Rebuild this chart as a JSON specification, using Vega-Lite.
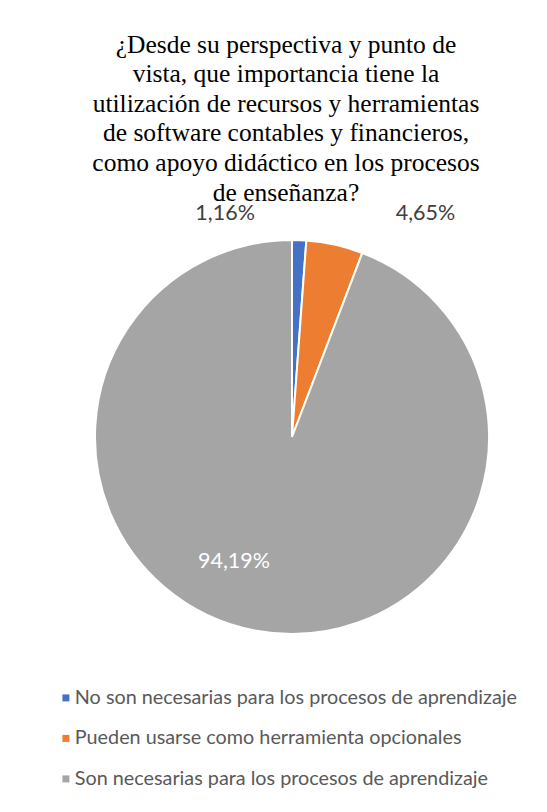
{
  "$schema": "https://vega.github.io/schema/vega-lite/v6.json",
  "width": 560,
  "height": 862,
  "autosize": {"type": "none"},
  "padding": {"left": 12, "top": 6, "right": -25, "bottom": -56},
  "background": "white",
  "config": {
    "view": {"stroke": "#D9D9D9", "strokeWidth": 1},
    "locale": {"number": {"decimal": ",", "thousands": ".", "grouping": [3], "currency": ["", " €"]}}
  },
  "title": {
    "text": ["¿Desde su perspectiva y punto de", "vista, que importancia tiene la", "utilización de recursos y herramientas", "de software contables y financieros,", "como apoyo didáctico en los procesos", "de enseñanza?"],
    "font": "Liberation Serif",
    "fontSize": 25.5,
    "fontWeight": "normal",
    "color": "#000000",
    "lineHeight": 29.6,
    "anchor": "middle",
    "baseline": "bottom",
    "offset": -225,
    "dx": -6
  },
  "data": {
    "values": [
      {"categoria": "No son necesarias para los procesos de aprendizaje", "valor": 0.0116},
      {"categoria": "Pueden usarse como herramienta opcionales", "valor": 0.0465},
      {"categoria": "Son necesarias para los procesos de aprendizaje", "valor": 0.9419}
    ]
  },
  "encoding": {
    "theta": {"field": "valor", "type": "quantitative", "stack": true},
    "order": {"field": "categoria", "sort": "ascending"}
  },
  "layer": [
    {
      "mark": {"type": "arc", "outerRadius": 197, "stroke": "white", "strokeWidth": 2},
      "encoding": {
        "color": {
          "field": "categoria",
          "type": "nominal",
          "scale": {
            "domain": ["No son necesarias para los procesos de aprendizaje", "Pueden usarse como herramienta opcionales", "Son necesarias para los procesos de aprendizaje"],
            "range": ["#4472C4", "#ED7D31", "#A5A5A5"]
          },
          "legend": {
            "title": null,
            "orient": "none",
            "legendX": 44,
            "legendY": 682,
            "symbolType": "square",
            "symbolSize": 49,
            "symbolStrokeWidth": 0,
            "labelFont": "Lato",
            "labelFontSize": 19.8,
            "labelColor": "#595959",
            "labelLimit": 600,
            "labelOffset": -1,
            "rowPadding": 19.5
          }
        }
      }
    },
    {
      "mark": {"type": "text", "radius": 223, "dx": -75, "font": "Lato", "fontSize": 21.5, "color": "#404040", "align": "center", "baseline": "middle"},
      "encoding": {
        "text": {
          "condition": {"test": "datum.categoria === 'No son necesarias para los procesos de aprendizaje'", "field": "valor", "type": "quantitative", "format": ".2%"},
          "value": ""
        }
      }
    },
    {
      "mark": {"type": "text", "radius": 228, "dx": 84, "font": "Lato", "fontSize": 21.5, "color": "#404040", "align": "center", "baseline": "middle"},
      "encoding": {
        "text": {
          "condition": {"test": "datum.categoria === 'Pueden usarse como herramienta opcionales'", "field": "valor", "type": "quantitative", "format": ".2%"},
          "value": ""
        }
      }
    },
    {
      "mark": {"type": "text", "radius": 127, "dx": -35, "font": "Lato", "fontSize": 21.5, "color": "#FFFFFF", "align": "center", "baseline": "middle"},
      "encoding": {
        "text": {
          "condition": {"test": "datum.categoria === 'Son necesarias para los procesos de aprendizaje'", "field": "valor", "type": "quantitative", "format": ".2%"},
          "value": ""
        }
      }
    }
  ]
}
